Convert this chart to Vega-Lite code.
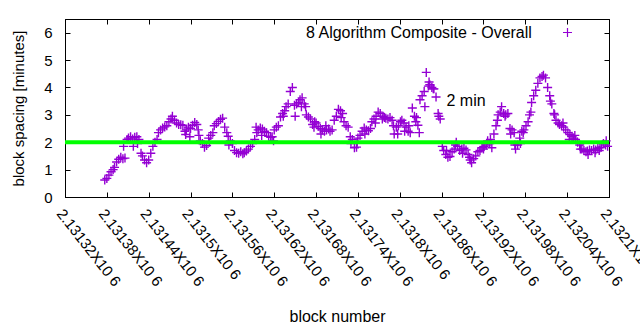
{
  "$schema": "https://vega.github.io/schema/vega-lite/v6.json",
  "width": 544,
  "height": 178,
  "autosize": "none",
  "padding": {"left": 65, "top": 19, "right": 31, "bottom": 133},
  "config": {
    "font": "Liberation Sans",
    "view": {"stroke": "black", "strokeWidth": 1},
    "axis": {"labelFont": "Liberation Sans", "titleFont": "Liberation Sans", "labelFontSize": 15, "titleFontSize": 16, "titleFontWeight": "normal", "labelColor": "black", "titleColor": "black", "domainColor": "black", "tickColor": "black", "grid": false}
  },
  "datasets": {
    "pts": [
      {"b":2131377,"s":0.62},{"b":2131380,"s":0.68},{"b":2131383,"s":0.80},{"b":2131386,"s":0.92},{"b":2131389,"s":1.00},{"b":2131391,"s":1.08},{"b":2131394,"s":1.28},{"b":2131397,"s":1.38},{"b":2131400,"s":1.45},{"b":2131403,"s":1.40},{"b":2131406,"s":1.42},
      {"b":2131409,"s":2.10},{"b":2131411,"s":2.15},{"b":2131414,"s":2.20},{"b":2131417,"s":2.12},{"b":2131420,"s":2.18},{"b":2131423,"s":2.20},{"b":2131426,"s":2.10},{"b":2131429,"s":1.60},{"b":2131431,"s":1.50},{"b":2131434,"s":1.35},
      {"b":2131437,"s":1.25},{"b":2131440,"s":1.35},{"b":2131443,"s":1.60},{"b":2131446,"s":1.85},{"b":2131449,"s":2.00},{"b":2131452,"s":2.10},{"b":2131454,"s":2.35},{"b":2131457,"s":2.45},{"b":2131460,"s":2.52},{"b":2131463,"s":2.56},
      {"b":2131466,"s":2.60},{"b":2131469,"s":2.75},{"b":2131472,"s":2.85},{"b":2131474,"s":2.95},{"b":2131477,"s":2.80},{"b":2131480,"s":2.70},{"b":2131483,"s":2.65},{"b":2131486,"s":2.64},{"b":2131489,"s":2.62},{"b":2131492,"s":2.40},
      {"b":2131494,"s":2.45},{"b":2131497,"s":2.55},{"b":2131500,"s":2.50},{"b":2131503,"s":2.62},{"b":2131506,"s":2.72},{"b":2131509,"s":2.65},{"b":2131512,"s":2.25},{"b":2131514,"s":2.05},{"b":2131517,"s":1.95},{"b":2131520,"s":1.82},
      {"b":2131523,"s":1.88},{"b":2131526,"s":2.15},{"b":2131529,"s":2.25},{"b":2131532,"s":2.35},{"b":2131534,"s":2.60},{"b":2131537,"s":2.68},{"b":2131540,"s":2.76},{"b":2131543,"s":2.84},{"b":2131546,"s":2.88},{"b":2131549,"s":2.55},
      {"b":2131552,"s":2.35},{"b":2131554,"s":2.22},{"b":2131557,"s":2.05},{"b":2131560,"s":1.95},{"b":2131563,"s":1.70},{"b":2131566,"s":1.62},{"b":2131569,"s":1.60},{"b":2131572,"s":1.65},{"b":2131575,"s":1.58},{"b":2131577,"s":1.62},
      {"b":2131580,"s":1.68},{"b":2131583,"s":1.75},{"b":2131586,"s":1.85},{"b":2131589,"s":1.95},{"b":2131592,"s":2.10},{"b":2131595,"s":2.35},{"b":2131597,"s":2.45},{"b":2131600,"s":2.52},{"b":2131603,"s":2.48},{"b":2131606,"s":2.40},
      {"b":2131609,"s":2.35},{"b":2131612,"s":2.22},{"b":2131615,"s":2.18},{"b":2131617,"s":2.20},{"b":2131620,"s":2.45},{"b":2131623,"s":2.55},{"b":2131626,"s":2.60},{"b":2131629,"s":2.92},{"b":2131632,"s":3.05},{"b":2131635,"s":3.15},
      {"b":2131637,"s":3.30},{"b":2131640,"s":3.40},{"b":2131643,"s":3.85},{"b":2131646,"s":4.00},{"b":2131649,"s":3.35},{"b":2131652,"s":3.40},{"b":2131655,"s":3.45},{"b":2131657,"s":3.55},{"b":2131660,"s":3.62},{"b":2131663,"s":3.40},
      {"b":2131666,"s":3.00},{"b":2131669,"s":2.92},{"b":2131672,"s":2.85},{"b":2131675,"s":2.65},{"b":2131678,"s":2.75},{"b":2131680,"s":2.70},{"b":2131683,"s":2.58},{"b":2131686,"s":2.50},{"b":2131689,"s":2.45},{"b":2131692,"s":2.40},
      {"b":2131695,"s":2.45},{"b":2131698,"s":2.48},{"b":2131700,"s":2.40},{"b":2131703,"s":2.45},{"b":2131706,"s":2.80},{"b":2131709,"s":2.95},{"b":2131712,"s":3.20},{"b":2131715,"s":3.15},{"b":2131718,"s":3.05},{"b":2131720,"s":2.75},
      {"b":2131723,"s":2.60},{"b":2131726,"s":2.55},{"b":2131729,"s":2.20},{"b":2131732,"s":2.10},{"b":2131735,"s":1.80},{"b":2131738,"s":1.82},{"b":2131740,"s":2.15},{"b":2131743,"s":2.25},{"b":2131746,"s":2.40},{"b":2131749,"s":2.52},
      {"b":2131752,"s":2.45},{"b":2131755,"s":2.42},{"b":2131758,"s":2.50},{"b":2131760,"s":2.75},{"b":2131763,"s":2.85},{"b":2131766,"s":2.95},{"b":2131769,"s":3.10},{"b":2131772,"s":3.05},{"b":2131775,"s":2.85},{"b":2131778,"s":2.90},
      {"b":2131780,"s":2.88},{"b":2131783,"s":2.85},{"b":2131786,"s":2.90},{"b":2131789,"s":2.80},{"b":2131792,"s":2.30},{"b":2131795,"s":2.55},{"b":2131798,"s":2.60},{"b":2131801,"s":2.75},{"b":2131803,"s":2.80},{"b":2131806,"s":2.70},
      {"b":2131809,"s":2.55},{"b":2131812,"s":2.40},{"b":2131815,"s":2.35},{"b":2131818,"s":3.25},{"b":2131821,"s":2.95},{"b":2131823,"s":2.75},{"b":2131826,"s":2.62},{"b":2131829,"s":3.55},{"b":2131832,"s":3.70},{"b":2131835,"s":3.85},
      {"b":2131838,"s":4.55},{"b":2131841,"s":4.05},{"b":2131843,"s":4.10},{"b":2131846,"s":4.00},{"b":2131849,"s":3.95},{"b":2131852,"s":3.65},{"b":2131855,"s":3.05},{"b":2131858,"s":2.85},{"b":2131861,"s":1.85},{"b":2131863,"s":1.70},
      {"b":2131866,"s":1.55},{"b":2131869,"s":1.45},{"b":2131872,"s":1.48},{"b":2131875,"s":1.65},{"b":2131878,"s":1.75},{"b":2131881,"s":2.00},{"b":2131883,"s":1.85},{"b":2131886,"s":1.70},{"b":2131889,"s":1.75},{"b":2131892,"s":1.78},
      {"b":2131895,"s":1.72},{"b":2131898,"s":1.55},{"b":2131901,"s":1.35},{"b":2131903,"s":1.25},{"b":2131906,"s":1.40},{"b":2131909,"s":1.50},{"b":2131912,"s":1.65},{"b":2131915,"s":1.70},{"b":2131918,"s":1.80},{"b":2131921,"s":1.85},
      {"b":2131924,"s":1.90},{"b":2131926,"s":2.05},{"b":2131929,"s":1.95},{"b":2131932,"s":1.80},{"b":2131935,"s":2.30},{"b":2131938,"s":2.60},{"b":2131941,"s":3.00},{"b":2131944,"s":3.10},{"b":2131946,"s":3.30},{"b":2131949,"s":3.05},
      {"b":2131952,"s":3.00},{"b":2131955,"s":3.05},{"b":2131958,"s":2.50},{"b":2131961,"s":2.45},{"b":2131964,"s":2.35},{"b":2131966,"s":1.75},{"b":2131969,"s":1.90},{"b":2131972,"s":2.15},{"b":2131975,"s":2.40},{"b":2131978,"s":2.45},
      {"b":2131981,"s":2.60},{"b":2131984,"s":2.75},{"b":2131986,"s":3.00},{"b":2131989,"s":3.45},{"b":2131992,"s":3.70},{"b":2131995,"s":3.90},{"b":2131998,"s":4.15},{"b":2132001,"s":4.35},{"b":2132004,"s":4.40},{"b":2132006,"s":4.45},
      {"b":2132009,"s":4.35},{"b":2132012,"s":4.00},{"b":2132015,"s":3.70},{"b":2132018,"s":3.40},{"b":2132021,"s":3.05},{"b":2132024,"s":2.80},{"b":2132027,"s":2.70},{"b":2132029,"s":2.65},{"b":2132032,"s":2.60},{"b":2132035,"s":2.55},
      {"b":2132038,"s":2.45},{"b":2132041,"s":2.35},{"b":2132044,"s":2.28},{"b":2132047,"s":2.22},{"b":2132049,"s":2.15},{"b":2132052,"s":2.10},{"b":2132055,"s":2.00},{"b":2132058,"s":1.90},{"b":2132061,"s":1.75},{"b":2132064,"s":1.70},
      {"b":2132067,"s":1.65},{"b":2132069,"s":1.68},{"b":2132072,"s":1.72},{"b":2132075,"s":1.70},{"b":2132078,"s":1.75},{"b":2132081,"s":1.72},{"b":2132084,"s":1.78},{"b":2132087,"s":1.80},{"b":2132089,"s":1.82},{"b":2132092,"s":1.95},
      {"b":2132095,"s":1.90},{"b":2132098,"s":1.85},
      {"b":2131404,"s":1.85},{"b":2131418,"s":1.85},{"b":2131424,"s":1.95},{"b":2131493,"s":2.28},{"b":2131499,"s":2.20},{"b":2131511,"s":2.45},{"b":2131527,"s":2.00},{"b":2131555,"s":1.90},{"b":2131594,"s":2.55},{"b":2131602,"s":2.25},
      {"b":2131619,"s":2.05},{"b":2131633,"s":2.95},{"b":2131650,"s":2.95},{"b":2131659,"s":3.30},{"b":2131665,"s":3.30},{"b":2131677,"s":2.55},{"b":2131687,"s":2.30},{"b":2131694,"s":2.60},{"b":2131716,"s":2.90},{"b":2131730,"s":1.95},
      {"b":2131739,"s":2.00},{"b":2131750,"s":2.30},{"b":2131765,"s":2.70},{"b":2131776,"s":2.95},{"b":2131791,"s":2.60},{"b":2131797,"s":2.30},{"b":2131807,"s":2.40},{"b":2131813,"s":2.60},{"b":2131824,"s":2.90},{"b":2131828,"s":2.35},
      {"b":2131836,"s":3.30},{"b":2131842,"s":4.20},{"b":2131848,"s":3.95},{"b":2131856,"s":2.95},{"b":2131867,"s":1.70},{"b":2131880,"s":1.90},{"b":2131890,"s":1.60},{"b":2131900,"s":1.45},{"b":2131920,"s":1.75},{"b":2131930,"s":2.10},
      {"b":2131940,"s":2.80},{"b":2131951,"s":2.95},{"b":2131959,"s":2.30},{"b":2131965,"s":1.90},{"b":2131973,"s":1.95},{"b":2131977,"s":2.35},{"b":2131988,"s":3.10},{"b":2132016,"s":3.50},{"b":2132022,"s":3.00},{"b":2132034,"s":2.70},
      {"b":2132043,"s":2.10},{"b":2132051,"s":2.25},{"b":2132059,"s":1.75},{"b":2132070,"s":1.55},{"b":2132080,"s":1.62},{"b":2132086,"s":1.70},{"b":2132096,"s":2.05}
    ],
    "ann": [{"b": 2131895, "s": 3.52, "t": "2 min"}],
    "lvl": [{"level": 2}]
  },
  "layer": [
    {
      "data": {"name": "pts"},
      "mark": {"type": "point", "shape": "M-1,0H1M0,-1V1", "filled": false, "strokeWidth": 1.4, "size": 81, "opacity": 1},
      "encoding": {
        "x": {"field": "b", "type": "quantitative",
          "scale": {"domain": [2131320, 2132100], "nice": false, "zero": false},
          "axis": {"orient": "bottom", "values": [2131320, 2131380, 2131440, 2131500, 2131560, 2131620, 2131680, 2131740, 2131800, 2131860, 2131920, 2131980, 2132040, 2132100],
            "labelExpr": "format(datum.value / 1000000, '.6~g') + 'X10 6'",
            "labelAngle": 52, "labelAlign": "left", "labelBaseline": "top", "labelOverlap": false, "labelFlush": false, "labelBound": false,
            "tickSize": -5, "labelPadding": 14, "title": "block number", "titleY": 124, "titleBaseline": "alphabetic"}},
        "y": {"field": "s", "type": "quantitative",
          "scale": {"domain": [0, 6.5], "nice": false, "zero": true},
          "axis": {"orient": "left", "values": [0, 1, 2, 3, 4, 5, 6], "tickSize": -5, "labelPadding": 18, "title": "block spacing [minutes]", "titleX": -47, "titleY": 89, "titleBaseline": "middle", "titleFontSize": 15}},
        "color": {"datum": "8 Algorithm Composite - Overall", "type": "nominal",
          "scale": {"range": ["#9400d3"]},
          "legend": {"title": "8 Algorithm Composite - Overall", "orient": "none", "legendX": 241, "legendY": 8, "titleOrient": "left", "titleLimit": 500,
            "titleFontSize": 16, "titleFontWeight": "normal", "titleColor": "black", "titleFont": "Liberation Sans", "titlePadding": 29,
            "labelExpr": "''", "symbolType": "M-1,0H1M0,-1V1", "symbolSize": 81, "symbolStrokeWidth": 1.2, "symbolFillColor": "transparent", "padding": 0}}
      }
    },
    {
      "data": {"name": "pts"},
      "mark": {"type": "point", "opacity": 0},
      "encoding": {
        "x": {"field": "b", "type": "quantitative", "axis": {"orient": "top", "values": [2131320, 2131380, 2131440, 2131500, 2131560, 2131620, 2131680, 2131740, 2131800, 2131860, 2131920, 2131980, 2132040, 2132100], "labels": false, "tickSize": -5, "title": null}},
        "y": {"field": "s", "type": "quantitative", "axis": {"orient": "right", "values": [0, 1, 2, 3, 4, 5, 6], "labels": false, "tickSize": -5, "title": null}}
      }
    },
    {
      "data": {"name": "lvl"},
      "mark": {"type": "rule", "color": "#00ff00", "strokeWidth": 4},
      "encoding": {"y": {"field": "level", "type": "quantitative", "axis": null}}
    },
    {
      "data": {"name": "ann"},
      "mark": {"type": "text", "font": "Liberation Sans", "fontSize": 16, "color": "black", "align": "center", "baseline": "middle"},
      "encoding": {
        "x": {"field": "b", "type": "quantitative", "axis": null},
        "y": {"field": "s", "type": "quantitative", "axis": null},
        "text": {"field": "t"}
      }
    }
  ],
  "resolve": {"axis": {"x": "independent", "y": "independent"}}
}
